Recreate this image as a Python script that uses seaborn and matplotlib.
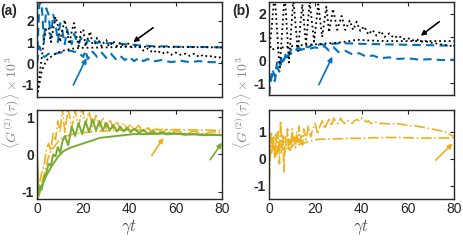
import numpy as np
import pandas as pd
import matplotlib
matplotlib.use('Agg')
import matplotlib.pyplot as plt
import seaborn as sns

# --- data (gamma*t, <G2> x 10^3) ---
# (a) upper panel
a_blk_osc_t = [0, 1, 2, 3, 4, 5, 6, 7, 8, 9, 10, 11, 12, 13, 14, 15, 16, 17, 18, 19, 20, 21, 22, 23, 24,
               25, 26, 27, 28, 29, 30, 31, 32, 33, 34, 35, 36, 37, 38, 39, 40, 41, 42, 44, 46, 48, 50,
               52, 54, 56, 58, 60, 62, 64, 66, 68, 70, 72, 74, 76, 78, 80]
a_blk_osc_v = [-1.6, -0.6, 0.2, 1.1, 1.6, 1.7, 1.0, 1.6, 2.2, 1.8, 1.0, 1.6, 2.05, 1.5, 0.9, 1.5, 1.9, 1.3,
               0.8, 1.5, 1.6, 0.8, 1.2, 1.5, 0.9, 0.9, 1.2, 1.0, 0.8, 1.0, 1.1, 0.8, 0.9, 1.05, 0.85, 0.8,
               1.0, 0.85, 0.75, 0.95, 0.9, 0.75, 0.85, 0.8, 0.6, 0.7, 0.5, 0.6, 0.45, 0.55, 0.4, 0.5, 0.4,
               0.45, 0.35, 0.45, 0.3, 0.4, 0.3, 0.35, 0.25, 0.3]
a_blk_smooth_t = [0, 1, 2, 3, 4, 5, 6, 8, 10, 12, 14, 16, 18, 20, 25, 30, 40, 50, 60, 70, 80]
a_blk_smooth_v = [-1.6, -1.0, -0.4, -0.1, 0.1, 0.25, 0.3, 0.45, 0.55, 0.62, 0.66, 0.7, 0.72, 0.73, 0.74,
                  0.75, 0.78, 0.78, 0.77, 0.76, 0.75]
a_blu_osc_t = [0, 1, 2, 3, 4, 5, 6, 7, 8, 9, 10, 11, 12, 13, 14, 15, 16, 17, 18, 19, 20, 21, 22, 23, 24,
               25, 26, 27, 28, 29, 30, 32, 34, 36, 38, 40, 44, 48, 52, 56, 60, 64, 68, 72, 76, 80]
a_blu_osc_v = [0.0, 2.8, 2.9, 1.0, 2.6, 2.3, 1.2, 2.3, 1.9, 1.0, 1.9, 1.5, 0.9, 1.6, 1.2, 0.9, 1.4, 1.1,
               0.9, 1.2, 1.0, 0.9, 1.1, 1.0, 0.95, 1.05, 0.95, 1.0, 0.95, 1.0, 0.95, 0.95, 0.95, 0.93,
               0.9, 0.9, 0.85, 0.82, 0.8, 0.8, 0.78, 0.78, 0.77, 0.77, 0.76, 0.75]
a_blu_low_t = [0, 1, 2, 3, 4, 5, 6, 8, 10, 12, 14, 16, 18, 20, 21, 22, 24, 26, 28, 30, 32, 34, 36, 38,
               40, 42, 44, 46, 48, 50, 54, 58, 62, 66, 70, 75, 80]
a_blu_low_v = [0.0, 0.8, 0.5, 0.3, 0.35, 0.45, 0.4, 0.45, 0.5, 0.55, 0.6, 0.55, 0.5, 0.3, 0.6, 0.2, 0.55,
               0.3, 0.5, 0.25, 0.45, 0.2, 0.35, 0.15, 0.3, 0.1, 0.25, 0.1, 0.2, 0.08, 0.15, 0.05, 0.12,
               0.05, 0.1, 0.05, 0.05]

# (a) lower panel
a_grn_osc_t = [0, 0.4, 1.3, 2, 3, 4, 5, 6, 7, 8, 9, 10, 11, 12, 13.5, 15, 16.5, 18, 19.5, 21, 22.5, 24,
               25.5, 27, 28.5, 30, 31.5, 33, 34.5, 36, 37.5, 39, 40.5, 42, 44, 46, 48, 50, 52, 54, 56,
               60, 64, 68, 72, 76, 80]
a_grn_osc_v = [0.0, -1.1, -0.85, -0.95, -0.65, -0.5, -0.25, -0.3, 0.0, -0.05, 0.2, 0.05, 0.35, 0.5, 0.25,
               0.75, 0.5, 0.85, 0.55, 0.9, 0.6, 0.95, 0.65, 0.9, 0.65, 0.85, 0.65, 0.8, 0.62, 0.75, 0.62,
               0.72, 0.6, 0.7, 0.58, 0.66, 0.56, 0.63, 0.55, 0.6, 0.54, 0.57, 0.53, 0.55, 0.52, 0.54, 0.52]
a_grn_smooth_t = [0, 0.6, 2, 4.2, 6.3, 9.2, 11.4, 14.3, 18.6, 23, 27.3, 34.5, 41.7, 49, 56, 64.8, 80]
a_grn_smooth_v = [0.0, -1.1, -0.86, -0.55, -0.32, -0.05, 0.09, 0.18, 0.27, 0.36, 0.45, 0.5, 0.55, 0.55,
                  0.57, 0.55, 0.52]
a_org_osc_t = [0, 1, 2, 3, 4, 5, 6, 7, 8, 9, 10, 11, 12, 13.5, 15, 16.5, 18, 19.5, 21, 22.5, 24, 25.5,
               27, 28.5, 30, 31.5, 33, 34.5, 36, 37.5, 39, 40.5, 42, 44, 46, 48, 50, 52, 54, 56, 58, 60,
               64, 68, 72, 76, 80]
a_org_osc_v = [-1.2, -0.8, -0.5, -0.3, 0.1, 0.3, 0.1, 0.6, 0.4, 0.9, 0.6, 1.25, 0.6, 1.25, 0.7, 1.2, 0.75,
               1.25, 0.8, 1.15, 0.75, 1.05, 0.75, 1.0, 0.7, 0.95, 0.7, 0.9, 0.68, 0.85, 0.68, 0.82, 0.66,
               0.78, 0.62, 0.72, 0.6, 0.7, 0.58, 0.68, 0.56, 0.65, 0.56, 0.63, 0.55, 0.62, 0.58]
a_org_smooth_t = [0, 0.6, 2, 3, 4, 5, 6, 7.7, 10, 12.8, 16, 20, 27, 34, 42, 50, 60, 70, 80]
a_org_smooth_v = [-1.2, -1.18, -0.8, -0.55, -0.3, -0.05, 0.1, 0.23, 0.41, 0.5, 0.55, 0.59, 0.63, 0.65,
                  0.66, 0.67, 0.67, 0.66, 0.65]

# (b) upper panel
b_blk_osc_t = [0, 1, 2.4, 4.6, 6.8, 8.6, 10.5, 12.5, 14.4, 16, 17.6, 19.5, 21.3, 23, 24.8, 26, 27.7,
               29.5, 31.4, 33, 34.9, 36.4, 37.9, 39.5, 41.1, 43, 44.7, 46.5, 48.3, 50, 52, 54, 56, 58,
               60, 62, 64, 66, 68, 70, 72, 74, 76, 78, 80]
b_blk_osc_v = [0.5, 1.2, 2.9, -0.4, 2.9, -0.1, 2.6, 0.4, 2.4, 0.7, 2.5, 0.8, 2.4, 1.0, 2.3, 1.2, 2.2, 1.3,
               1.9, 1.3, 1.7, 1.3, 1.65, 1.25, 1.45, 1.1, 1.3, 1.05, 1.25, 1.0, 1.15, 0.95, 1.05, 0.9,
               0.95, 0.85, 0.88, 0.8, 0.8, 0.75, 0.72, 0.68, 0.65, 0.62, 0.6]
b_blk_smooth_t = [0, 1, 3, 6, 10, 15, 20, 25, 30, 35, 38, 42, 50, 60, 70, 80]
b_blk_smooth_v = [0.8, 0.45, 0.5, 0.55, 0.6, 0.65, 0.68, 0.72, 0.75, 0.82, 0.88, 0.85, 0.82, 0.82, 0.82,
                  0.82]
b_blu_up_t = [0, 0.5, 1.5, 2.5, 3.5, 4.5, 5.5, 6.5, 7.5, 8.5, 9.5, 11, 12.5, 14, 15.5, 17, 18.5, 20, 22,
              24, 27, 30, 35, 40, 50, 60, 70, 80]
b_blu_up_v = [-1.5, -0.9, -0.4, -0.7, -0.1, -0.3, 0.2, 0.0, 0.35, 0.2, 0.45, 0.35, 0.55, 0.45, 0.6, 0.55,
              0.65, 0.6, 0.68, 0.66, 0.7, 0.72, 0.72, 0.7, 0.68, 0.66, 0.64, 0.62]
b_blu_low_t = [0, 0.5, 1.5, 2.5, 3.5, 4.5, 5.5, 6.5, 8, 10, 12, 14, 16, 18, 20, 22, 24, 26, 28, 30, 33,
               36, 39, 42, 45, 48, 52, 56, 60, 65, 70, 75, 80]
b_blu_low_v = [-1.5, -1.0, -0.6, -0.9, -0.3, -0.5, 0.0, -0.1, 0.2, 0.3, 0.4, 0.45, 0.5, 0.5, 0.55, 0.5,
               0.6, 0.4, 0.55, 0.35, 0.4, 0.25, 0.3, 0.15, 0.2, 0.08, 0.12, 0.05, 0.08, 0.02, 0.04, 0.0,
               0.02]

# (b) lower panel
b_org_osc_t = [0, 0.5, 1, 1.5, 2, 2.5, 3, 3.5, 4, 4.5, 5, 5.5, 6, 6.5, 7, 7.5, 8, 8.5, 9, 9.5, 10, 10.5,
               11, 11.5, 12, 12.5, 13, 13.5, 14, 14.5, 15, 16, 17, 18, 19, 20, 21, 22, 23, 24, 25, 26,
               27, 28, 29, 30, 31, 32, 33, 34, 35, 36, 37, 38, 39, 40, 41, 42, 43, 44, 46, 48, 50, 52,
               55, 58, 61, 64, 67, 70, 73, 76, 78, 80]
b_org_osc_v = [-1.4, 0.0, 1.0, 0.3, 0.8, 0.0, 0.9, 0.2, 1.0, -0.2, 1.4, 0.4, 0.9, -0.5, 0.8, 0.5, 1.1,
               0.3, 0.7, 0.4, 1.1, 0.5, 0.8, 0.4, 1.0, 0.6, 1.2, 0.6, 0.9, 0.5, 1.1, 0.7, 1.2, 0.8, 1.1,
               1.3, 0.9, 1.2, 1.4, 1.1, 1.3, 1.45, 1.2, 1.5, 1.35, 1.3, 1.5, 1.35, 1.3, 1.4, 1.35, 1.3,
               1.4, 1.45, 1.4, 1.5, 1.45, 1.35, 1.4, 1.3, 1.35, 1.3, 1.3, 1.28, 1.3, 1.26, 1.22, 1.2,
               1.15, 1.1, 1.05, 1.0, 0.9, 0.82]
b_org_smooth_t = [0, 0.5, 1, 2, 3, 4, 5, 6, 7, 8, 9, 10, 11, 12, 14, 16, 18, 20, 22, 25, 30, 35, 40, 45,
                  50, 55, 60, 65, 70, 75, 80]
b_org_smooth_v = [0.0, 0.5, 0.2, 0.5, 0.1, 0.35, 0.2, 0.4, 0.25, 0.45, 0.3, 0.5, 0.4, 0.5, 0.55, 0.6,
                  0.65, 0.7, 0.72, 0.72, 0.73, 0.75, 0.75, 0.77, 0.78, 0.78, 0.77, 0.76, 0.76, 0.76, 0.76]

xticks = [0, 20, 40, 60, 80]

# colours (MATLAB defaults)
BLUE = '#0072BD'
ORANGE = '#EDB120'
GREEN = '#77AC30'
BLACK = 'black'

sns.set_style('white')
plt.rcParams['font.family'] = ['Liberation Sans', 'DejaVu Sans']
plt.rcParams['mathtext.fontset'] = 'cm'

W, H = 463, 245
fig = plt.figure(figsize=(W / 100, H / 100), dpi=100)


def make_ax(left, top, right, bottom):
    return fig.add_axes([left / W, 1 - bottom / H, (right - left) / W, (bottom - top) / H])


ax_a1 = make_ax(37, 2, 222, 97)
ax_a2 = make_ax(37, 110, 222, 199)
ax_b1 = make_ax(269, 2, 454, 95)
ax_b2 = make_ax(269, 110, 454, 199)


def line(ax, t, v, color, ls, lw):
    sns.lineplot(x=t, y=v, ax=ax, color=color, linestyle=ls, linewidth=lw, sort=False)


line(ax_a1, a_blu_osc_t, a_blu_osc_v, BLUE, (0, (4, 2.5)), 1.5)
line(ax_a1, a_blu_low_t, a_blu_low_v, BLUE, (0, (4, 2.5)), 1.5)
line(ax_a1, a_blk_osc_t, a_blk_osc_v, BLACK, ':', 1.3)
line(ax_a1, a_blk_smooth_t, a_blk_smooth_v, BLACK, ':', 1.3)

line(ax_a2, a_org_osc_t, a_org_osc_v, ORANGE, '-.', 1.2)
line(ax_a2, a_org_smooth_t, a_org_smooth_v, ORANGE, '-.', 1.2)
line(ax_a2, a_grn_osc_t, a_grn_osc_v, GREEN, '-', 1.4)
line(ax_a2, a_grn_smooth_t, a_grn_smooth_v, GREEN, '-', 1.4)

line(ax_b1, b_blu_up_t, b_blu_up_v, BLUE, (0, (4, 2.5)), 1.5)
line(ax_b1, b_blu_low_t, b_blu_low_v, BLUE, (0, (4, 2.5)), 1.5)
line(ax_b1, b_blk_osc_t, b_blk_osc_v, BLACK, ':', 1.3)
line(ax_b1, b_blk_smooth_t, b_blk_smooth_v, BLACK, ':', 1.3)

line(ax_b2, b_org_osc_t, b_org_osc_v, ORANGE, '-.', 1.2)
line(ax_b2, b_org_smooth_t, b_org_smooth_v, ORANGE, '-.', 1.2)

# arrows: (axes, tail, head, colour)
arrows = [
    (ax_a1, (50.2, 1.68), (41.6, 1.0), BLACK),
    (ax_a1, (15.7, -1.03), (21.4, 0.24), BLUE),
    (ax_a2, (49.6, -0.03), (54.7, 0.45), ORANGE),
    (ax_a2, (74.9, -0.14), (80.0, 0.32), GREEN),
    (ax_b1, (73.6, 1.65), (65.6, 1.05), BLACK),
    (ax_b1, (21.6, -1.05), (27.4, 0.15), BLUE),
    (ax_b2, (72.1, -0.06), (79.4, 0.56), ORANGE),
]
for ax, tail, head, c in arrows:
    ax.annotate('', xy=head, xytext=tail,
                arrowprops=dict(arrowstyle='-|>', color=c, lw=1.2, mutation_scale=7,
                                shrinkA=0, shrinkB=0))

ylims = {ax_a1: (-1.6, 2.9), ax_a2: (-1.2, 1.2), ax_b1: (-1.5, 2.5), ax_b2: (-1.5, 1.8)}
for ax, yl in ylims.items():
    ax.set_xlim(0, 80)
    ax.set_ylim(*yl)
    ax.set_xticks(xticks)
    ax.set_yticks([-1, 0, 1] + ([2] if yl[1] > 2 else []))
    ax.set_yticklabels([str(v) for v in ax.get_yticks().astype(int)], fontweight='bold', fontsize=10)
    ax.tick_params(direction='in', length=3, width=0.8, top=True, right=True, pad=2,
                   colors='#262626', labelcolor='#262626')
    for s in ax.spines.values():
        s.set_color('#262626')
        s.set_linewidth(1.0)
    ax.set_xlabel('')
    ax.set_ylabel('')

for ax in (ax_a1, ax_b1):
    ax.set_xticklabels([])
for ax in (ax_a2, ax_b2):
    ax.set_xticklabels([str(v) for v in xticks], fontsize=10)
    ax.set_xlabel(r'$\gamma t$', fontsize=12, labelpad=1, color='#555555')

ylab = r'$\langle G^{(2)}(\tau)\rangle\times10^3$'
fig.text(11 / W, 1 - 103 / H, ylab, rotation=90, ha='center', va='center', fontsize=10, color='#888888')
fig.text(242 / W, 1 - 103 / H, ylab, rotation=90, ha='center', va='center', fontsize=10, color='#888888')

fig.text(0 / W, 1 - 11 / H, '(a)', fontsize=10, fontweight='bold', va='center', ha='left')
fig.text(232 / W, 1 - 11 / H, '(b)', fontsize=10, fontweight='bold', va='center', ha='left')

fig.savefig('out.png', dpi=100)
